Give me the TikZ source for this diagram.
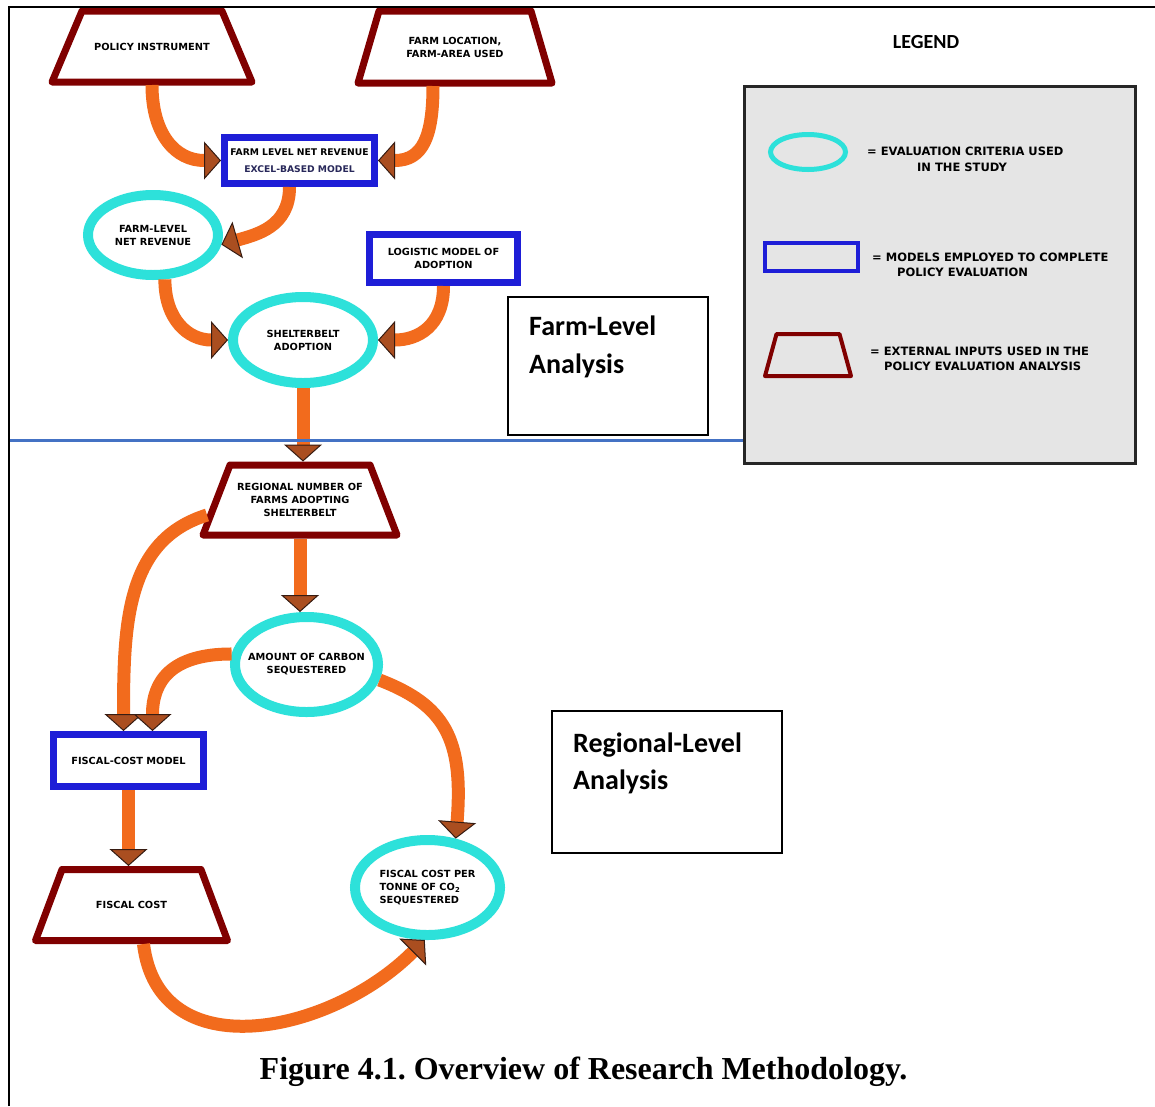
\documentclass[tikz,border=0pt]{standalone}
\usepackage{fontspec}
\usetikzlibrary{arrows.meta,shapes.geometric}
\newfontfamily\dv{DejaVu Sans}
\newfontfamily\carl{Carlito}
\newfontfamily\tnr{Liberation Serif}
\definecolor{maroonc}{RGB}{128,0,0}
\definecolor{cyanc}{RGB}{45,225,218}
\definecolor{bluec}{RGB}{30,30,215}
\definecolor{orangec}{RGB}{242,107,29}
\definecolor{headfill}{RGB}{170,78,32}
\definecolor{headdraw}{RGB}{55,28,18}
\definecolor{sepblue}{RGB}{68,114,196}
\definecolor{leggray}{RGB}{229,229,229}
\definecolor{navytxt}{RGB}{40,40,90}
\newcommand{\trapz}[6]{%
  \node[trapbox, minimum width=#3, minimum height=#4] (#1) at (#2) {#6};
  \draw[trapline] (#1.south west) -- (#1.south east) -- ([xshift=-#5]#1.north east) -- ([xshift=#5]#1.north west) -- cycle;}
\begin{document}
\frenchspacing
\begin{tikzpicture}[x=1pt,y=-1pt,
  txt/.style={font=\dv\bfseries\fontsize{9.8}{13}\selectfont, align=center, text=black},
  crit/.style={ellipse, draw=cyanc, line width=10pt, inner sep=0pt},
  model/.style={rectangle, draw=bluec, line width=7pt, txt, inner sep=0pt},
  trapbox/.style={rectangle, txt, inner sep=0pt, outer sep=0pt},
  trapline/.style={draw=maroonc, line width=7pt, line join=round},
  flow/.style={draw=orangec, line width=13pt, -{Triangle[width=38pt,length=17pt,fill=headfill,color=headdraw,line width=1pt]}},
  plain/.style={draw=black, line width=1.2pt},
  bigsans/.style={font=\carl\bfseries\fontsize{28}{39}\selectfont, anchor=base west, inner sep=0pt},
  legtxt/.style={font=\dv\bfseries\fontsize{11.5}{15.5}\selectfont, anchor=base west, inner sep=0pt}
]
\useasboundingbox (0,0) rectangle (1155,1106);
\fill[white] (0,0) rectangle (1155,1106);

% ---- farm level ----
\trapz{pol}{152,46.5}{200pt}{71pt}{30pt}{POLICY INSTRUMENT}
\trapz{loc}{455,47}{194pt}{72pt}{21pt}{FARM LOCATION,\\FARM-AREA USED}
\node[model, minimum width=150pt, minimum height=46pt, font=\dv\bfseries\fontsize{9.2}{13}\selectfont] (rev) at (299.5,160.5)
  {FARM LEVEL NET REVENUE\\[4pt]{\color{navytxt}EXCEL-BASED MODEL}};
\node[crit, minimum width=130pt, minimum height=80pt,
  label={[txt]center:FARM-LEVEL\\NET REVENUE}] (flnr) at (153,235) {};
\node[model, minimum width=148pt, minimum height=48pt] (logit) at (443.5,258.5)
  {LOGISTIC MODEL OF\\ADOPTION};
\node[crit, minimum width=140pt, minimum height=86pt,
  label={[txt]center:SHELTERBELT\\ADOPTION}] (shel) at (303,340) {};

% ---- regional level ----
\trapz{reg}{300,500}{194pt}{70pt}{27pt}{REGIONAL NUMBER OF\\FARMS ADOPTING\\SHELTERBELT}
\node[crit, minimum width=143pt, minimum height=95pt,
  label={[txt]center:AMOUNT OF CARBON\\SEQUESTERED}] (carb) at (306.5,664.5) {};
\node[model, minimum width=150pt, minimum height=52pt] (fcm) at (128.5,760.5) {FISCAL-COST MODEL};
\trapz{fc}{131.5,905}{192pt}{71pt}{26.5pt}{FISCAL COST}
\node[crit, minimum width=145pt, minimum height=95pt,
  label={[txt, align=left]center:FISCAL COST PER\\TONNE OF CO\textsubscript{2}\\SEQUESTERED}] (fcpt) at (427.5,887.5) {};

% ---- connectors ----
\draw[flow] ([yshift=-3pt]pol.south) .. controls +(0,50) and +(-45,0) .. (rev.west);
\draw[flow] ([xshift=-22pt,yshift=-3pt]loc.south) .. controls +(0,50) and +(45,0) .. (rev.east);
\draw[flow] ([xshift=-10pt]rev.south) .. controls +(0,40) and +(35,-10) .. (flnr.-8);
\draw[flow] (flnr.-75) .. controls +(0,40) and +(-40,0) .. (shel.west);
\draw[flow] (logit.south) .. controls +(0,40) and +(40,0) .. (shel.east);
\draw[flow] (shel.south) -- ([yshift=3.5pt]shel.south |- reg.north);
\draw[flow] ([shift={(4,15)}]reg.west) .. controls +(-80,25) and +(0,-110) .. ([xshift=-5pt]fcm.north);
\draw[flow] ([yshift=-3.5pt]reg.south) -- (reg.south |- carb.north);
\draw[flow] (carb.172) .. controls +(-60,0) and +(0,-50) .. ([xshift=24pt]fcm.north);
\draw[flow] (carb.-12) .. controls +(65,25) and +(8,-100) .. (fcpt.60);
\draw[flow] (fcm.south) -- ([yshift=3.5pt]fcm.south |- fc.north);
\draw[flow] ([xshift=12pt,yshift=-3.5pt]fc.south) .. controls +(15,125) and +(-95,95) .. (fcpt.-93);

% ---- analysis boxes ----
\node[plain, minimum width=200pt, minimum height=138pt] (farmbox) at (608,366) {};
\node[bigsans] (farmt1) at (529,335) {Farm-Level};
\node[bigsans] (farmt2) at (529,373) {Analysis};
\node[plain, minimum width=230pt, minimum height=142pt] (regbox) at (667,782) {};
\node[bigsans] (regt1) at (573,752) {Regional-Level};
\node[bigsans] (regt2) at (573,789) {Analysis};

% ---- legend ----
\node[font=\carl\bfseries\fontsize{20}{24}\selectfont, anchor=base, inner sep=0pt] (legt) at (926,48) {LEGEND};
\node[draw=black!85, fill=leggray, line width=3pt, minimum width=391pt, minimum height=377pt] (legbox) at (940,275) {};
\node[ellipse, draw=cyanc, line width=5pt, minimum width=75pt, minimum height=35pt] (legE) at (808,152) {};
\node[rectangle, draw=bluec, line width=4pt, minimum width=93pt, minimum height=28pt] (legR) at (811.5,257) {};
\node[rectangle, inner sep=0pt, outer sep=0pt, minimum width=86pt, minimum height=42pt] (legT) at (808,355) {};
\draw[draw=maroonc, line width=4pt, line join=round] (legT.south west) -- (legT.south east) -- ([xshift=-11.5pt]legT.north east) -- ([xshift=11.5pt]legT.north west) -- cycle;
\node[legtxt] (l1a) at (867,155) {= EVALUATION CRITERIA USED};
\node[legtxt] (l1b) at (917,171) {IN THE STUDY};
\node[legtxt] (l2a) at (872,261) {= MODELS EMPLOYED TO COMPLETE};
\node[legtxt] (l2b) at (897,276) {POLICY EVALUATION};
\node[legtxt] (l3a) at (870,355) {= EXTERNAL INPUTS USED IN THE};
\node[legtxt] (l3b) at (884,370) {POLICY EVALUATION ANALYSIS};

% ---- separator and frame ----
\draw[sepblue, line width=3pt] (9,440) -- (legbox.west |- 9,440);
\draw[black, line width=2pt] (9,1106) -- (9,7) -- (1155,7);

% ---- caption ----
\node[font=\tnr\bfseries\fontsize{32}{38}\selectfont, anchor=base, inner sep=0pt] (caption) at (583.5,1079)
  {Figure 4.1. Overview of Research Methodology.};
\end{tikzpicture}
\end{document}
